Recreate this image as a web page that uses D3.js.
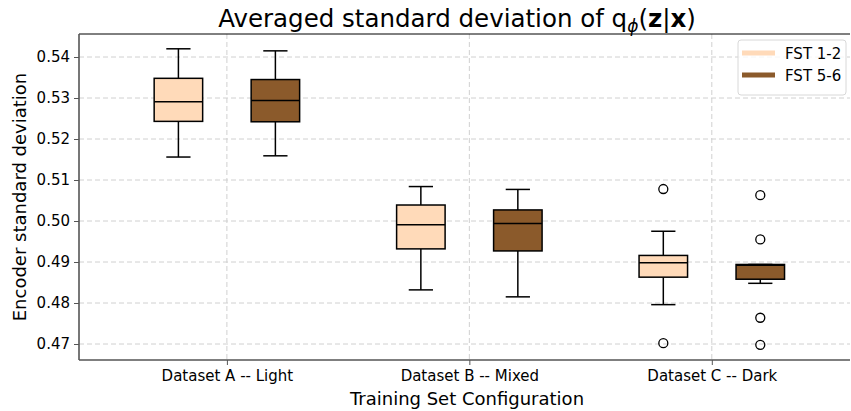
<!doctype html>
<html>
<head>
    <meta charset="UTF-8">
    <title>Encoder std</title>
    <script src="https://d3js.org/d3.v7.min.js"></script>
    <style>
        body { margin: 0; background: #fff; }
        text { font-family: "DejaVu Sans", sans-serif; }
    </style>
</head>
<body>
    <svg width="851" height="411"></svg>
    <script>
        // categories and series
        var categories = ["Dataset A -- Light", "Dataset B -- Mixed", "Dataset C -- Dark"];
        var seriesNames = ["FST 1-2", "FST 5-6"];
        var seriesColors = ["#ffdab9", "#8b5a2b"];

        // box stats per category: [whiskerLow, q1, median, q3, whiskerHigh]
        var fst12 = [
            [0.5156, 0.5243, 0.5291, 0.5348, 0.5420],
            [0.4832, 0.4932, 0.4991, 0.5039, 0.5084],
            [0.4796, 0.4863, 0.4898, 0.4916, 0.4975]
        ];
        var fst56 = [
            [0.5159, 0.5242, 0.5294, 0.5345, 0.5415],
            [0.4815, 0.4927, 0.4994, 0.5027, 0.5077],
            [0.4848, 0.4858, 0.4892, 0.4894, 0.4894]
        ];
        var fst12Outliers = [[], [], [0.5078, 0.4702]];
        var fst56Outliers = [[], [], [0.5063, 0.4955, 0.4764, 0.4698]];

        var yTicks = [0.47, 0.48, 0.49, 0.50, 0.51, 0.52, 0.53, 0.54];

        var svg = d3.select("svg");
        var pLeft = 79, pRight = 850, pTop = 34, pBottom = 360;

        var x = d3.scaleLinear().domain([-0.61, 2.57]).range([pLeft, pRight]);
        var y = d3.scaleLinear().domain([0.47, 0.54]).range([344, 57]);

        // grid
        var grid = svg.append("g");
        grid.selectAll("line.h").data(yTicks).enter().append("line")
            .attr("x1", pLeft).attr("x2", pRight)
            .attr("y1", function (d) { return y(d); })
            .attr("y2", function (d) { return y(d); })
            .attr("stroke", "#d0d0d0").attr("stroke-dasharray", "5,3").attr("stroke-width", 1);
        grid.selectAll("line.v").data(categories).enter().append("line")
            .attr("x1", function (d, i) { return x(i); })
            .attr("x2", function (d, i) { return x(i); })
            .attr("y1", pTop).attr("y2", pBottom)
            .attr("stroke", "#d0d0d0").attr("stroke-dasharray", "5,3").attr("stroke-width", 1);

        // boxes
        var series = [fst12, fst56];
        var outliers = [fst12Outliers, fst56Outliers];
        var offsets = [-0.2, 0.2];
        var halfW = 0.1, capW = 0.05;

        series.forEach(function (s, si) {
            var g = svg.append("g");
            s.forEach(function (st, ci) {
                var cx = ci + offsets[si];
                // whiskers
                g.append("line").attr("x1", x(cx)).attr("x2", x(cx))
                    .attr("y1", y(st[0])).attr("y2", y(st[1]))
                    .attr("stroke", "#000").attr("stroke-width", 1.5);
                g.append("line").attr("x1", x(cx)).attr("x2", x(cx))
                    .attr("y1", y(st[3])).attr("y2", y(st[4]))
                    .attr("stroke", "#000").attr("stroke-width", 1.5);
                g.append("line").attr("x1", x(cx - capW)).attr("x2", x(cx + capW))
                    .attr("y1", y(st[0])).attr("y2", y(st[0]))
                    .attr("stroke", "#000").attr("stroke-width", 1.5);
                g.append("line").attr("x1", x(cx - capW)).attr("x2", x(cx + capW))
                    .attr("y1", y(st[4])).attr("y2", y(st[4]))
                    .attr("stroke", "#000").attr("stroke-width", 1.5);
                g.append("rect")
                    .attr("x", x(cx - halfW)).attr("width", x(cx + halfW) - x(cx - halfW))
                    .attr("y", y(st[3])).attr("height", y(st[1]) - y(st[3]))
                    .attr("fill", seriesColors[si]).attr("stroke", "#000").attr("stroke-width", 1.5);
                g.append("line").attr("x1", x(cx - halfW)).attr("x2", x(cx + halfW))
                    .attr("y1", y(st[2])).attr("y2", y(st[2]))
                    .attr("stroke", "#000").attr("stroke-width", 1.5);
                g.selectAll("circle.o" + ci).data(outliers[si][ci]).enter().append("circle")
                    .attr("cx", x(cx)).attr("cy", function (d) { return y(d); })
                    .attr("r", 4.5).attr("fill", "none").attr("stroke", "#000").attr("stroke-width", 1.3);
            });
        });

        // spines
        svg.append("line").attr("x1", pLeft).attr("x2", pRight).attr("y1", pTop).attr("y2", pTop)
            .attr("stroke", "#000").attr("stroke-width", 1);
        svg.append("line").attr("x1", pLeft).attr("x2", pLeft).attr("y1", pTop).attr("y2", pBottom)
            .attr("stroke", "#555").attr("stroke-width", 1.6);
        svg.append("line").attr("x1", pLeft).attr("x2", pRight).attr("y1", pBottom).attr("y2", pBottom)
            .attr("stroke", "#555").attr("stroke-width", 1.6);

        // axes
        var yAxis = d3.axisLeft(y).tickValues(yTicks).tickFormat(d3.format(".2f")).tickSize(5).tickPadding(4);
        var ya = svg.append("g").attr("transform", "translate(" + pLeft + ",0)").call(yAxis);
        ya.select(".domain").remove();
        ya.selectAll("text").attr("font-size", 15).attr("fill", "#000").style("font-family", "DejaVu Sans");
        ya.selectAll("line").attr("stroke", "#555");

        var xAxis = d3.axisBottom(x).tickValues([0, 1, 2]).tickFormat(function (d) { return categories[d]; }).tickSize(5).tickPadding(5);
        var xa = svg.append("g").attr("transform", "translate(0," + pBottom + ")").call(xAxis);
        xa.select(".domain").remove();
        xa.selectAll("text").attr("font-size", 15).attr("fill", "#000").style("font-family", "DejaVu Sans");
        xa.selectAll("line").attr("stroke", "#555");

        // labels
        svg.append("text").attr("x", 467).attr("y", 405)
            .attr("text-anchor", "middle").attr("font-size", 18).text("Training Set Configuration");
        svg.append("text").attr("transform", "translate(26," + ((pTop + pBottom) / 2) + ") rotate(-90)")
            .attr("text-anchor", "middle").attr("font-size", 18).text("Encoder standard deviation");

        var title = svg.append("text").attr("x", 457).attr("y", 27)
            .attr("text-anchor", "middle").attr("font-size", 24.5);
        title.append("tspan").text("Averaged standard deviation of q");
        title.append("tspan").attr("font-size", 17).attr("dy", 5).attr("font-style", "italic").text("ϕ");
        title.append("tspan").attr("dy", -5).text("(");
        title.append("tspan").attr("font-weight", "bold").text("z");
        title.append("tspan").text("|");
        title.append("tspan").attr("font-weight", "bold").text("x");
        title.append("tspan").text(")");

        // legend
        var lg = svg.append("g").attr("transform", "translate(738,40)");
        lg.append("rect").attr("width", 108).attr("height", 55).attr("rx", 3)
            .attr("fill", "#fff").attr("fill-opacity", 0.8).attr("stroke", "#d8d8d8");
        seriesNames.forEach(function (n, i) {
            lg.append("line").attr("x1", 4).attr("x2", 37).attr("y1", 13 + i * 22).attr("y2", 13 + i * 22)
                .attr("stroke", seriesColors[i]).attr("stroke-width", 5);
            lg.append("text").attr("x", 47).attr("y", 19 + i * 22).attr("font-size", 15).text(n);
        });
    </script>
</body>
</html>
